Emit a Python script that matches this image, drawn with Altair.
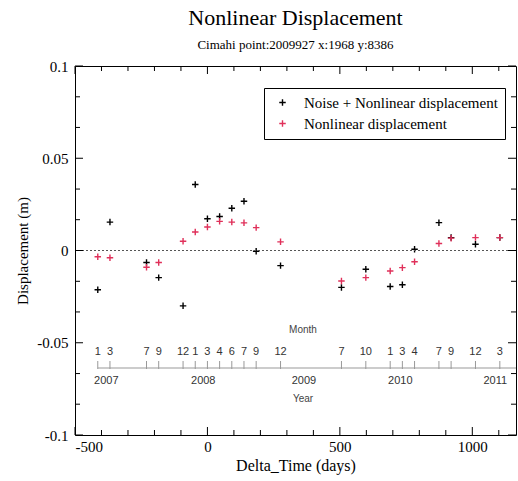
import altair as alt
import pandas as pd

# ---------------- data ----------------
days = [-414, -368, -230, -184, -92, -46, 0, 46, 92, 138, 184, 276,
        506, 598, 690, 736, 782, 874, 920, 1012, 1104]
noise_nonlinear = [-0.0213, 0.0154, -0.0065, -0.0147, -0.0300, 0.0358, 0.0172,
                   0.0184, 0.0229, 0.0267, -0.0004, -0.0082, -0.0200, -0.0102,
                   -0.0195, -0.0186, 0.0007, 0.0151, 0.0070, 0.0034, 0.0070]
nonlinear = [-0.0034, -0.0039, -0.0091, -0.0065, 0.0050, 0.0100, 0.0127,
             0.0158, 0.0154, 0.0150, 0.0124, 0.0047, -0.0165, -0.0147,
             -0.0111, -0.0093, -0.0061, 0.0038, 0.0067, 0.0070, 0.0070]
month_labels = ["1", "3", "7", "9", "12", "1", "3", "4", "6", "7", "9", "12",
                "7", "10", "1", "3", "4", "7", "9", "12", "3"]
year_labels = ["2007", "2008", "2009", "2010", "2011"]
year_days = [-428, -62, 318, 682, 1042]
series_names = ["Noise + Nonlinear displacement", "Nonlinear displacement"]
series_colors = ["black", "#e0305a"]
x_label_values = [-500, 0, 500, 1000]
y_label_values = [-0.1, -0.05, 0, 0.05, 0.1]
x_minor_ticks = [-400, -300, -200, -100, 100, 200, 300, 400, 600, 700, 800, 900, 1100]
y_minor_ticks = [-0.0833, -0.0667, -0.0333, -0.0167, 0.0167, 0.0333, 0.0667, 0.0833]

# ---------------- layout ----------------
W, H = 441, 369
SERIF = "Liberation Serif"
SANS = "Liberation Sans"
CROSS = "M-1,0L1,0M0,-1L0,1"

xs = alt.Scale(domain=[-500, 1165], nice=False, zero=False)
ys = alt.Scale(domain=[-0.1, 0.1], nice=False, zero=False)

pts = pd.DataFrame({
    "day": days * 2,
    "value": noise_nonlinear + nonlinear,
    "series": [series_names[0]] * len(days) + [series_names[1]] * len(days),
})
months = pd.DataFrame({"day": days, "month": month_labels})
years = pd.DataFrame({"day": year_days, "year": year_labels})
xmaj = pd.DataFrame({"day": x_label_values})
xmin = pd.DataFrame({"day": x_minor_ticks})
ymaj = pd.DataFrame({"value": y_label_values})
ymin = pd.DataFrame({"value": y_minor_ticks})
zero = pd.DataFrame({"value": [0.0]})
first = pd.DataFrame({"day": [days[0]]})

XAX = alt.Axis(
    values=x_label_values, ticks=False, domain=False, grid=False,
    labelExpr="'' + datum.value",
    labelFont=SERIF, labelFontSize=15, labelColor="black", labelPadding=4,
    title="Delta_Time (days)", titleFont=SERIF, titleFontSize=16,
    titleFontWeight="normal", titleColor="black", titlePadding=3)
YAX = alt.Axis(
    values=y_label_values, ticks=False, domain=False, grid=False,
    labelExpr="'' + datum.value",
    labelFont=SERIF, labelFontSize=15, labelColor="black", labelPadding=7,
    title="Displacement (m)", titleFont=SERIF, titleFontSize=15,
    titleFontWeight="normal", titleColor="black", titlePadding=6)

points = alt.Chart(pts).mark_point(
    shape=CROSS, filled=False, size=42, strokeWidth=1.4, opacity=1
).encode(
    x=alt.X("day:Q", scale=xs, axis=XAX),
    y=alt.Y("value:Q", scale=ys, axis=YAX),
    color=alt.Color("series:N", scale=alt.Scale(domain=series_names, range=series_colors),
                    legend=alt.Legend(
                        title=None, orient="none", legendX=189, legendY=22,
                        strokeColor="black", fillColor="white", padding=7,
                        labelFont=SERIF, labelFontSize=15, labelColor="black",
                        symbolType=CROSS, symbolSize=42, symbolStrokeWidth=1.4,
                        rowPadding=5, labelOffset=14, symbolOffset=4, labelLimit=400)),
)

zero_line = alt.Chart(zero).mark_rule(color="#555", strokeDash=[2, 2], strokeWidth=1).encode(
    y=alt.Y("value:Q", scale=ys, axis=YAX))

def xticks(df, length):
    bottom = alt.Chart(df).mark_rule(color="black").encode(
        x=alt.X("day:Q", scale=xs, axis=XAX), y=alt.value(H), y2=alt.value(H - length))
    top = alt.Chart(df).mark_rule(color="black").encode(
        x=alt.X("day:Q", scale=xs, axis=XAX), y=alt.value(0), y2=alt.value(length))
    return [bottom, top]

def yticks(df, length):
    left = alt.Chart(df).mark_rule(color="black").encode(
        y=alt.Y("value:Q", scale=ys, axis=YAX), x=alt.value(0), x2=alt.value(length))
    right = alt.Chart(df).mark_rule(color="black").encode(
        y=alt.Y("value:Q", scale=ys, axis=YAX), x=alt.value(W), x2=alt.value(W - length))
    return [left, right]

tick_layers = xticks(xmaj, 8) + xticks(xmin, 5) + yticks(ymaj, 8) + yticks(ymin, 5)

# embedded month / year time axis
m_line = alt.Chart(first).mark_rule(color="#999", strokeWidth=1).encode(
    x=alt.X("day:Q", scale=xs, axis=XAX), x2=alt.value(W), y=alt.value(302))
m_ticks = alt.Chart(months).mark_rule(color="#999", strokeWidth=1).encode(
    x=alt.X("day:Q", scale=xs, axis=XAX), y=alt.value(295), y2=alt.value(303))
m_text = alt.Chart(months).mark_text(font=SANS, fontSize=11, color="#333", baseline="middle").encode(
    x=alt.X("day:Q", scale=xs, axis=XAX), y=alt.value(286), text="month:N")
y_text = alt.Chart(years).mark_text(font=SANS, fontSize=11, color="#333", align="left", baseline="middle").encode(
    x=alt.X("day:Q", scale=xs, axis=XAX), y=alt.value(315), text="year:N")
month_title = alt.Chart(first).mark_text(font=SANS, fontSize=10, color="#444", baseline="middle").encode(
    x=alt.value(228), y=alt.value(264), text=alt.value("Month"))
year_title = alt.Chart(first).mark_text(font=SANS, fontSize=10, color="#444", baseline="middle").encode(
    x=alt.value(228), y=alt.value(333), text=alt.value("Year"))

chart = alt.layer(
    points, zero_line, *tick_layers, m_line, m_ticks, m_text, y_text, month_title, year_title
).properties(
    width=W, height=H,
    title=alt.TitleParams(
        text="Nonlinear Displacement",
        subtitle="Cimahi point:2009927 x:1968 y:8386",
        font=SERIF, fontSize=22, fontWeight="normal", color="black",
        subtitleFont=SERIF, subtitleFontSize=13, subtitleColor="black",
        anchor="middle", offset=6, subtitlePadding=9),
    autosize=alt.AutoSizeParams(type="none"),
    padding={"left": 75, "top": 66, "right": 2, "bottom": 45},
).configure(background="white").configure_view(stroke="black", strokeWidth=1)

chart.save("out.html", embed_options={"renderer": "svg", "actions": False})
